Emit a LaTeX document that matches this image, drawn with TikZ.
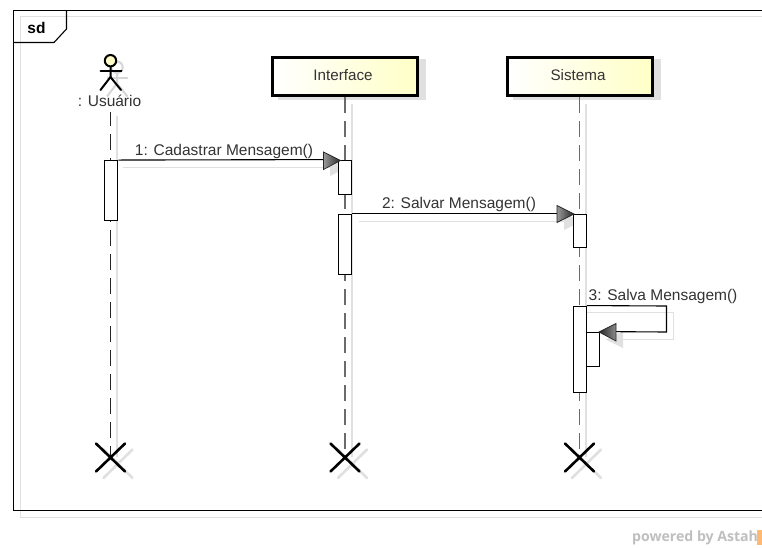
\documentclass[tikz,border=0pt]{standalone}
\usepackage{fontspec}
\setmainfont{Liberation Sans}
\newfontfamily\wmfont{Open Sans}
\definecolor{shadowgray}{HTML}{E0E0E0}
\definecolor{actorshadow}{HTML}{D6D6D6}
\definecolor{textgray}{HTML}{333333}
\tikzset{
  x=1pt,y=-1pt,
  shadowline/.style={draw=shadowgray,line width=1pt},
  lifeline/.style={draw=black!58,line width=1.4pt,dash pattern=on 16pt off 8pt},
  actorline/.style={draw=black!85,line width=1.1pt,dash pattern=on 16pt off 8pt,dash phase=2pt},
  objbox/.style={draw=black,line width=3pt,left color=white,right color=yellow!22,minimum width=145pt,minimum height=38pt,inner sep=0pt,font=\fontsize{15.2}{17}\selectfont,text=textgray},
  objshadow/.style={fill=shadowgray,minimum width=148pt,minimum height=41pt,inner sep=0pt},
  actbox/.style={draw=black,line width=0.9pt,fill=white,minimum width=13.4pt,inner sep=0pt},
  msg/.style={draw=black,line width=1.1pt},
  lbl/.style={font=\fontsize{15.5}{17}\selectfont,text=textgray,inner sep=0pt},
  headr/.style={left color=black!40,right color=black!85,draw=black!85,line width=0.7pt},
  headl/.style={left color=black!85,right color=black!45,draw=black!85,line width=0.7pt},
  xmark/.style={draw=black,line width=2.6pt,line cap=round},
  xshadow/.style={draw=shadowgray,line width=2.6pt,line cap=round},
}
\begin{document}
\begin{tikzpicture}
\useasboundingbox (0,0) rectangle (762,547);
\fill[white] (0,0) rectangle (762,547);
% frame shadow
\draw[shadowline,line width=0.9pt] (762,16.5) -- (20.5,16.5) -- (20.5,517) -- (762,517);
% lifeline shadows
\draw[shadowline,line width=1.3pt] (117,116) -- (117,457);
\draw[shadowline,line width=1.3pt] (352,104) -- (352,457);
\draw[shadowline,line width=1.3pt] (586,104) -- (586,457);
% object shadows
\node[objshadow] at (352,79) {};
\node[objshadow] at (587,79) {};
% actor shadow
\begin{scope}[shift={(6.5,6.5)}]
\draw[actorshadow,line width=2pt] (110.5,60.7) circle (5.7);
\draw[actorshadow,line width=2pt] (100,71) -- (121.5,71);
\draw[actorshadow,line width=2pt] (110.5,67) -- (110.5,77) -- (100.5,90);
\draw[actorshadow,line width=2pt] (110.5,77) -- (121,90);
\end{scope}
% x shadows
\foreach \cx in {118,352.5,586.5}{
  \draw[xshadow] (\cx-14.5,449.5) -- (\cx+14.5,478) (\cx+14.5,449.5) -- (\cx-14.5,478);
}
% lifelines
\coordinate (a1) at (110.5,112);
\coordinate (a2) at (110.5,457);
\node[objbox] (iface) at (345,76.5) {\hspace{-4pt}\raisebox{4pt}{Interface}};
\node[objbox] (sist) at (580,76.5) {\hspace{-4pt}\raisebox{4pt}{Sistema}};
\coordinate (i2) at (345,457);
\coordinate (s2) at (579.5,457);
\draw[actorline] (a1) -- (a2);
\draw[lifeline] (iface.south) -- (i2);
\draw[lifeline] ([xshift=-0.5pt]sist.south) -- (s2);
% actor
\draw[line width=2pt,fill=yellow!22] (110.5,60.7) circle (5.7);
\draw[line width=2pt,line cap=round] (100.5,71) -- (121.5,71);
\draw[line width=2pt,line cap=round] (110.5,67) -- (110.5,77) -- (100.5,90);
\draw[line width=2pt,line cap=round] (110.5,77) -- (121,90);
\node[lbl] (actor) at (109.5,100.5) {: Usuário};
% message shadows
\draw[shadowline] (123,167) -- (338,167);
\draw[shadowline] (359,221) -- (572,221);
\draw[shadowline,line width=0.9pt] (579,312) -- (673.7,312) -- (673.7,339.5) -- (606,339.5);
\fill[shadowgray] (330,159) -- (330,176) -- (347,167.5) -- cycle;
\fill[shadowgray] (564,213) -- (564,230) -- (581,221.5) -- cycle;
\fill[shadowgray] (623,331) -- (623,348) -- (606,339.5) -- cycle;
% activations
\node[actbox,minimum height=60pt] (act1) at (111.2,190.5) {};
\node[actbox,minimum height=34pt] (act2) at (345.2,177) {};
\node[actbox,minimum height=60pt] (act3) at (345.2,244) {};
\node[actbox,minimum height=33pt] (act4) at (579.7,230.5) {};
\node[actbox,minimum height=86pt] (act5) at (579.7,349) {};
\node[actbox,minimum height=34pt] (act6) at (593,349) {};
% messages
\draw[msg] (act1.north east) -- (act2.north west);
\draw[msg] (act3.north east) -- (act4.north west);
\draw[msg] (act5.north east) -- (666.5,306) -- (666.5,332) -- (act6.north east);
\path[headr] (323.5,152) -- (323.5,169.5) -- (340.5,160.5) -- cycle;
\path[headr] (557,205.5) -- (557,222.5) -- (574,214) -- cycle;
\path[headl] (616,323.5) -- (616,341) -- (599,332) -- cycle;
% message labels
\node[lbl] (m1) at (224,151) {1: Cadastrar Mensagem()};
\node[lbl] (m2) at (459,204) {2: Salvar Mensagem()};
\node[lbl] (m3) at (663,296) {3: Salva Mensagem()};
% x marks
\foreach \cx/\nm in {110.5/xa,345/xb,579.5/xc}{
  \coordinate (\nm) at (\cx,457.5);
  \draw[xmark] (\cx-14.5,443.5) -- (\cx+14.5,471.5) (\cx+14.5,443.5) -- (\cx-14.5,471.5);
}
% frame
\draw[black,line width=1.1pt] (762,10.5) -- (13.5,10.5) -- (13.5,510.5) -- (762,510.5);
\draw[black,line width=1.1pt] (66.5,10.5) -- (66.5,29) -- (54,42.5) -- (13.5,42.5);
\node[font=\bfseries\fontsize{15.5}{17}\selectfont,inner sep=0pt] (sd) at (36.5,27.5) {sd};
% watermark
\node[font=\wmfont\bfseries\fontsize{14.1}{16}\selectfont,text=black!25,anchor=west,inner sep=0pt] (wm) at (632,537.5) {powered by Astah};
\fill[orange!55] (757,530) rectangle (762,545);
\end{tikzpicture}
\end{document}
